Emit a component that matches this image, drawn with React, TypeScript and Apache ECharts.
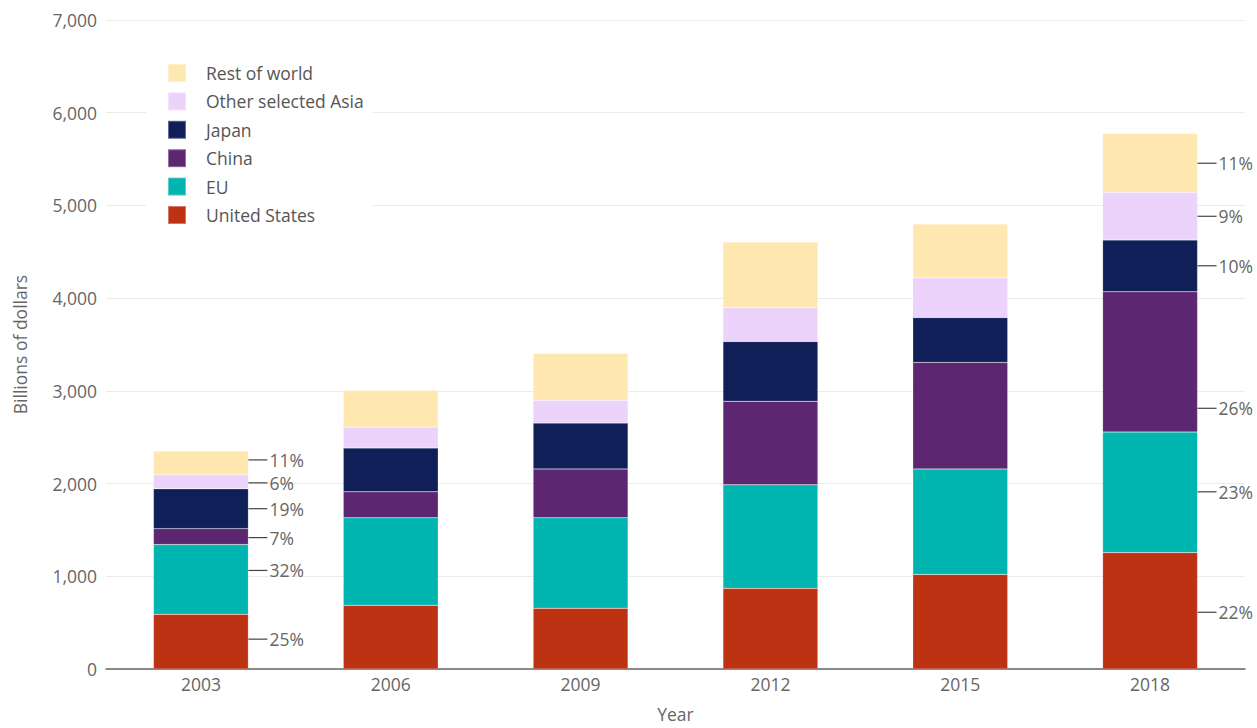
import React, { useEffect, useRef } from "react";
import * as echarts from "echarts";

const years = ["2003", "2006", "2009", "2012", "2015", "2018"];
const unitedStates = [590, 687, 655, 870, 1020, 1256];
const eu = [752, 945, 977, 1116, 1138, 1299];
const china = [172, 279, 526, 902, 1149, 1514];
const japan = [429, 473, 494, 644, 483, 558];
const otherAsia = [151, 225, 247, 365, 429, 516];
const restOfWorld = [257, 397, 504, 709, 580, 633];

// share annotations: [category index, anchor value, label]
const shareCategory = [0, 0, 0, 0, 0, 0, 5, 5, 5, 5, 5, 5];
const shareAnchor = [322, 1063, 1417, 1729, 2008, 2255, 612, 1911, 2812, 4349, 4883, 5455];
const shareLabels = ["25%", "32%", "7%", "19%", "6%", "11%", "22%", "23%", "26%", "10%", "9%", "11%"];

const yTicks = [0, 1000, 2000, 3000, 4000, 5000, 6000, 7000];

const seriesDefs = [
  { name: "United States", data: unitedStates, color: "#be3214" },
  { name: "EU", data: eu, color: "#00b5b0" },
  { name: "China", data: china, color: "#5c2670" },
  { name: "Japan", data: japan, color: "#101f58" },
  { name: "Other selected Asia", data: otherAsia, color: "#ebd3fc" },
  { name: "Rest of world", data: restOfWorld, color: "#fee8b0" },
];

const FONT = "'Open Sans', 'Noto Sans', sans-serif";
const GRAY = "#666666";
const FS = 17.5;

export default function App() {
  const ref = useRef<HTMLDivElement>(null);
  useEffect(() => {
    if (!ref.current) return;
    const chart = echarts.init(ref.current, null, { renderer: "svg" });
    const shareData = shareAnchor.map((v, i) => [shareCategory[i], v]);
    chart.setOption({
      animation: false,
      textStyle: { fontFamily: FONT },
      grid: { left: 106, right: 12, top: 20, bottom: 56, containLabel: false },
      legend: {
        data: [...seriesDefs].reverse().map((s) => s.name),
        orient: "vertical",
        left: 146,
        top: 53,
        padding: [10, 9, 10, 21],
        backgroundColor: "#ffffff",
        itemWidth: 18,
        itemHeight: 18,
        itemGap: 8.4,
        icon: "rect",
        textStyle: {
          fontSize: FS,
          lineHeight: 18,
          color: "#555555",
          fontFamily: FONT,
          padding: [0, 0, 0, 15],
        },
      },
      xAxis: {
        type: "category",
        data: years,
        name: "Year",
        nameLocation: "middle",
        nameGap: 36,
        nameTextStyle: { fontSize: FS, color: GRAY, fontFamily: FONT },
        axisLine: { lineStyle: { color: "#666666", width: 1.5 } },
        axisTick: { show: false },
        axisLabel: { fontSize: FS, color: GRAY, fontFamily: FONT, margin: 6 },
      },
      yAxis: {
        type: "value",
        min: yTicks[0],
        max: yTicks[yTicks.length - 1],
        interval: 1000,
        name: "Billions of dollars",
        nameLocation: "middle",
        nameGap: 77,
        nameTextStyle: { fontSize: FS, color: GRAY, fontFamily: FONT },
        axisLine: { show: false },
        axisTick: { show: false },
        splitLine: { lineStyle: { color: "#ebebeb", width: 1 } },
        axisLabel: {
          fontSize: FS,
          color: GRAY,
          fontFamily: FONT,
          margin: 9,
          formatter: (v: number) => v.toLocaleString("en-US"),
        },
      },
      series: [
        ...seriesDefs.map((s) => ({
          name: s.name,
          type: "bar",
          stack: "total",
          data: s.data,
          barWidth: "50%",
          itemStyle: { color: s.color, borderColor: "rgba(255,255,255,0.35)", borderWidth: 0.5 },
          emphasis: { disabled: true },
        })),
        {
          name: "shares",
          type: "custom",
          data: shareData,
          z: 5,
          renderItem: (params: any, api: any) => {
            const idx = api.value(0);
            const val = api.value(1);
            const pt = api.coord([idx, val]);
            const band = api.size([1, 0])[0];
            const x0 = pt[0] + band * 0.25;
            return {
              type: "group",
              children: [
                {
                  type: "line",
                  shape: { x1: x0, y1: pt[1], x2: x0 + 19, y2: pt[1] },
                  style: { stroke: "#444444", lineWidth: 1.2 },
                },
                {
                  type: "text",
                  x: x0 + 21,
                  y: pt[1],
                  style: {
                    text: shareLabels[params.dataIndex],
                    fill: GRAY,
                    fontSize: FS,
                    fontFamily: FONT,
                    verticalAlign: "middle",
                    align: "left",
                  },
                },
              ],
            };
          },
        },
      ],
    });
    return () => chart.dispose();
  }, []);
  return (
    <div
      ref={ref}
      style={{ position: "absolute", left: 0, top: 0, width: 1257, height: 728 }}
    />
  );
}
